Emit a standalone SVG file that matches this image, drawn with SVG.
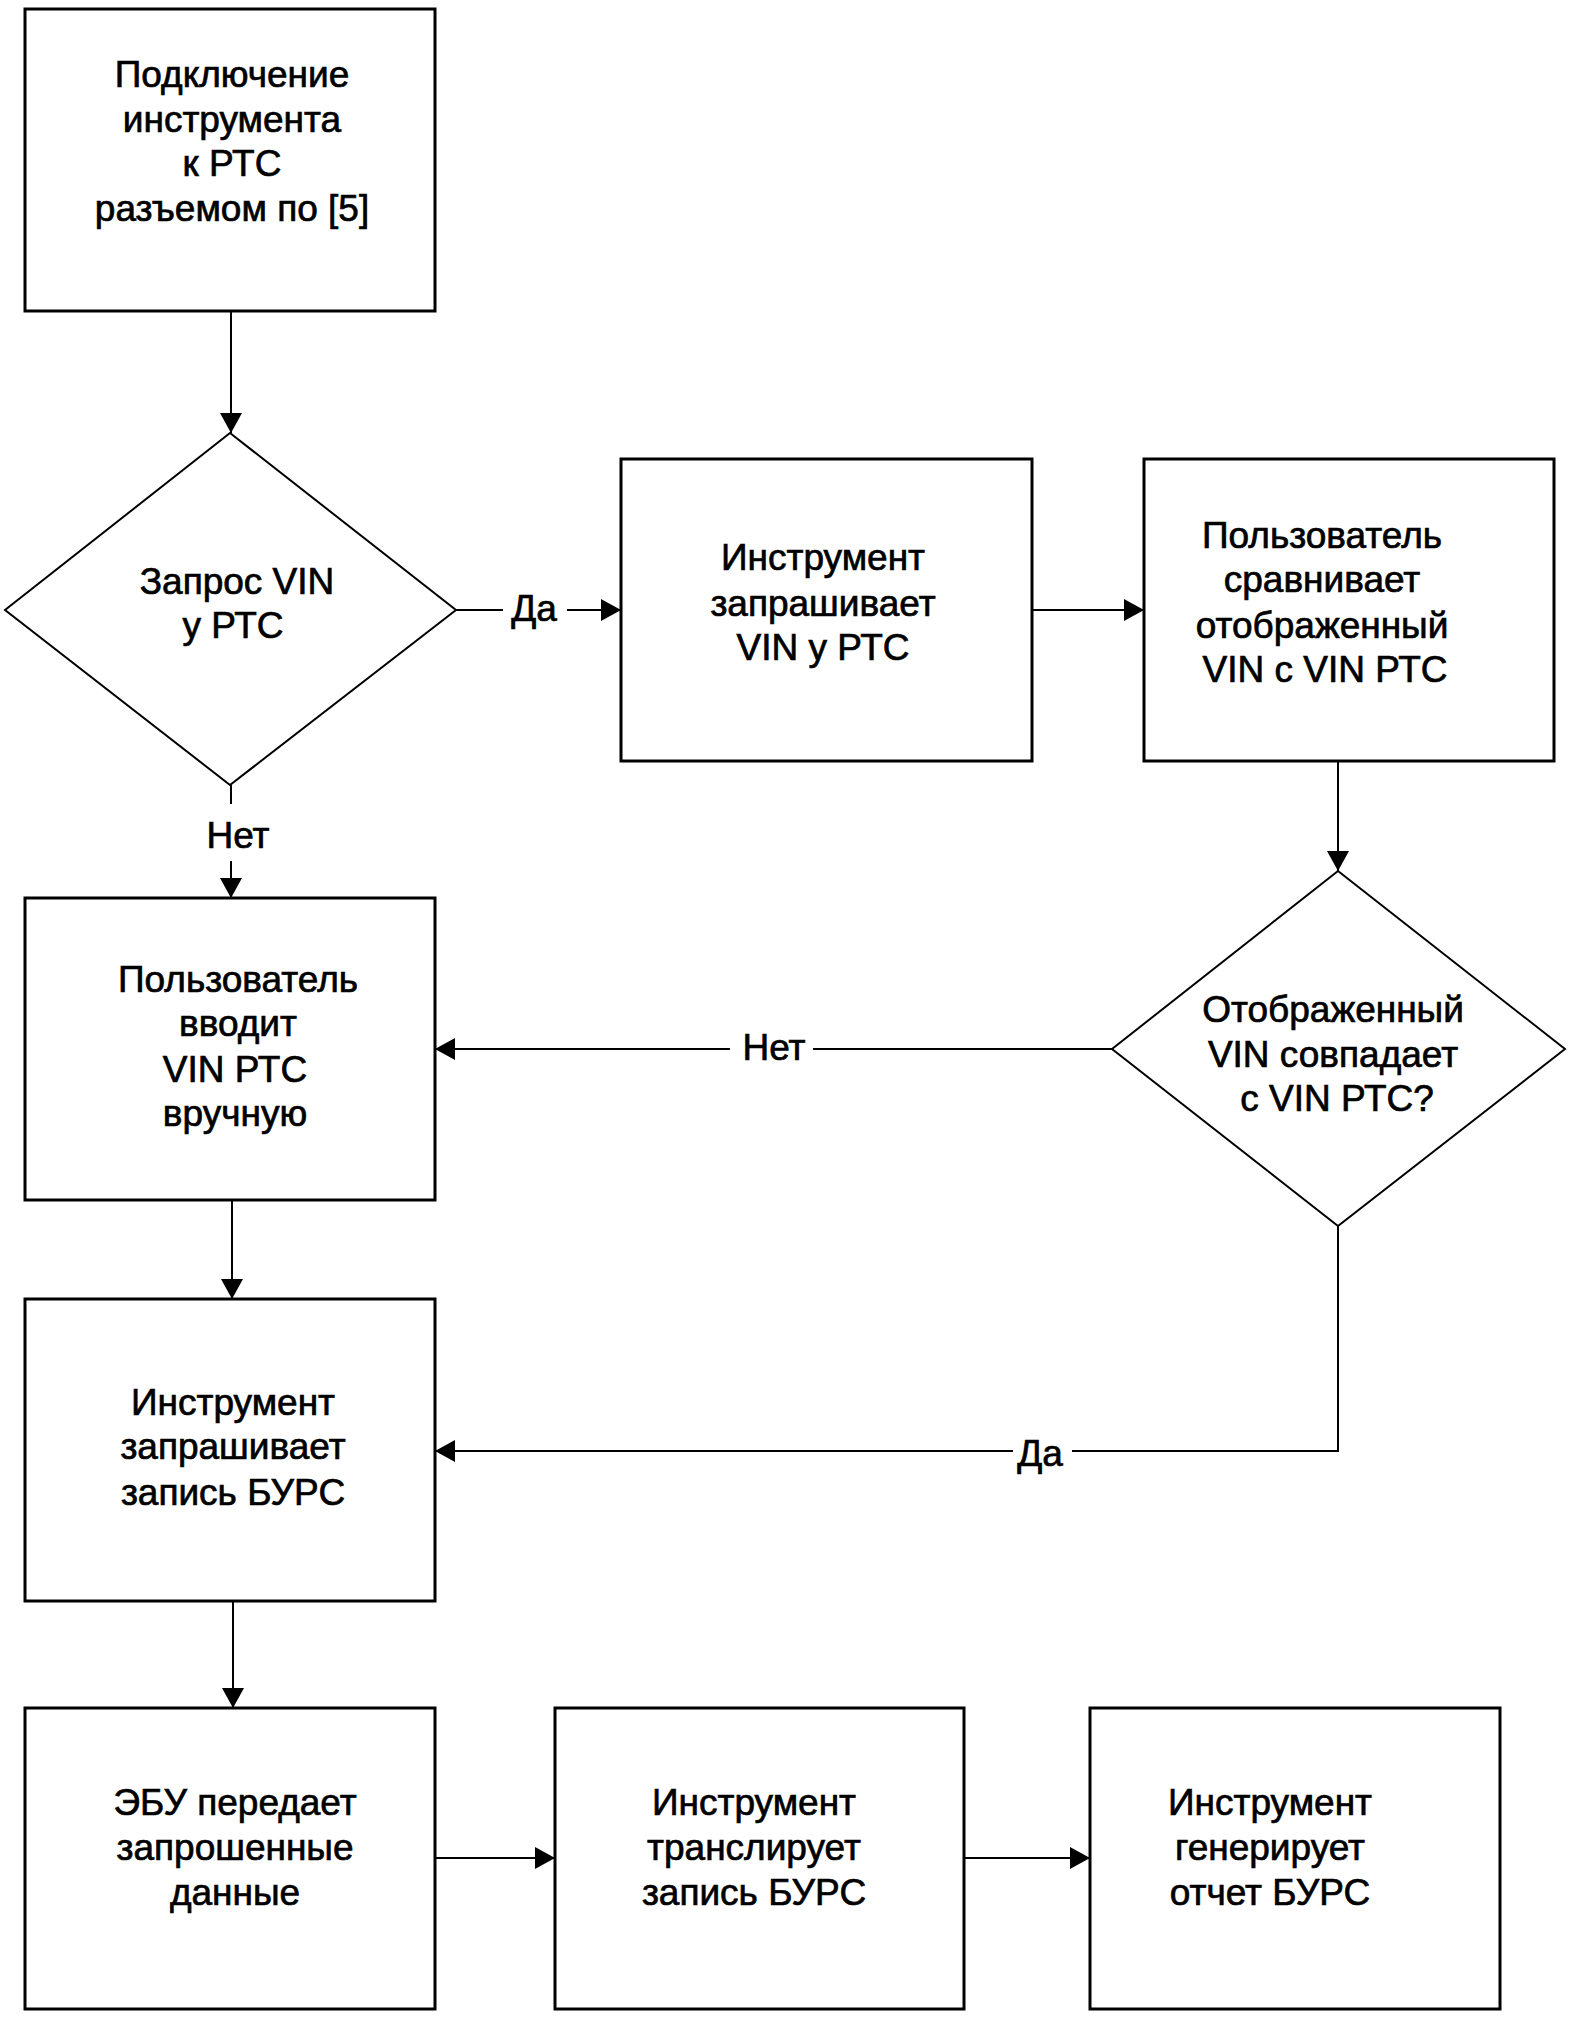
<svg xmlns="http://www.w3.org/2000/svg" width="1570" height="2021" viewBox="0 0 1570 2021">
<style>
.box{fill:#fff;stroke:#000;stroke-width:3}
.dia{fill:#fff;stroke:#000;stroke-width:2}
.con{fill:none;stroke:#000;stroke-width:2}
text{font-family:"Liberation Sans",Arial,sans-serif;font-size:37px;fill:#000;stroke:#000;stroke-width:0.7;text-anchor:middle}
</style>
<defs>
<marker id="ah" markerUnits="userSpaceOnUse" markerWidth="22" markerHeight="22" viewBox="0 0 20 22" refX="20" refY="11" orient="auto">
<path d="M0,0 L20,11 L0,22 z" fill="#000"/>
</marker>
</defs>
<rect width="1570" height="2021" fill="#fff"/>
<g id="connectors">
<path class="con" d="M231,311 V433" marker-end="url(#ah)"/>
<path class="con" d="M456,610 H503"/>
<path class="con" d="M567,610 H621" marker-end="url(#ah)"/>
<path class="con" d="M1032,610 H1144" marker-end="url(#ah)"/>
<path class="con" d="M1338,761 V871" marker-end="url(#ah)"/>
<path class="con" d="M231,785 V804"/>
<path class="con" d="M231,861 V898" marker-end="url(#ah)"/>
<path class="con" d="M1112,1049 H813"/>
<path class="con" d="M730,1049 H435" marker-end="url(#ah)"/>
<path class="con" d="M232,1200 V1299" marker-end="url(#ah)"/>
<path class="con" d="M1338,1226 V1451 H1072"/>
<path class="con" d="M1013,1451 H435" marker-end="url(#ah)"/>
<path class="con" d="M233,1601 V1708" marker-end="url(#ah)"/>
<path class="con" d="M435,1858 H555" marker-end="url(#ah)"/>
<path class="con" d="M964,1858 H1090" marker-end="url(#ah)"/>
<text x="534" y="621">Да</text>
<text x="238" y="848">Нет</text>
<text x="774" y="1060">Нет</text>
<text x="1040" y="1466">Да</text>
</g>
<g id="n1">
<rect class="box" x="25" y="9" width="410" height="302"/>
<text x="232" y="87">Подключение</text>
<text x="232" y="132">инструмента</text>
<text x="232" y="176">к РТС</text>
<text x="232" y="221">разъемом по [5]</text>
</g>
<g id="d1">
<polygon class="dia" points="230,433 456,610 230,785 5,610"/>
<text x="237" y="594">Запрос VIN</text>
<text x="233" y="638">у РТС</text>
</g>
<g id="n2">
<rect class="box" x="621" y="459" width="411" height="302"/>
<text x="823" y="570">Инструмент</text>
<text x="823" y="616">запрашивает</text>
<text x="823" y="660">VIN у РТС</text>
</g>
<g id="n3">
<rect class="box" x="1144" y="459" width="410" height="302"/>
<text x="1322" y="548">Пользователь</text>
<text x="1322" y="592">сравнивает</text>
<text x="1322" y="638">отображенный</text>
<text x="1325" y="682">VIN с VIN РТС</text>
</g>
<g id="d2">
<polygon class="dia" points="1338,871 1565,1049 1338,1226 1112,1049"/>
<text x="1333" y="1022">Отображенный</text>
<text x="1333" y="1067">VIN совпадает</text>
<text x="1337" y="1111">с VIN РТС?</text>
</g>
<g id="n4">
<rect class="box" x="25" y="898" width="410" height="302"/>
<text x="238" y="992">Пользователь</text>
<text x="238" y="1036">вводит</text>
<text x="235" y="1082">VIN РТС</text>
<text x="235" y="1126">вручную</text>
</g>
<g id="n5">
<rect class="box" x="25" y="1299" width="410" height="302"/>
<text x="233" y="1415">Инструмент</text>
<text x="233" y="1459">запрашивает</text>
<text x="233" y="1505">запись БУРС</text>
</g>
<g id="n6">
<rect class="box" x="25" y="1708" width="410" height="301"/>
<text x="235" y="1815">ЭБУ передает</text>
<text x="235" y="1860">запрошенные</text>
<text x="235" y="1905">данные</text>
</g>
<g id="n7">
<rect class="box" x="555" y="1708" width="409" height="301"/>
<text x="754" y="1815">Инструмент</text>
<text x="754" y="1860">транслирует</text>
<text x="754" y="1905">запись БУРС</text>
</g>
<g id="n8">
<rect class="box" x="1090" y="1708" width="410" height="301"/>
<text x="1270" y="1815">Инструмент</text>
<text x="1270" y="1860">генерирует</text>
<text x="1270" y="1905">отчет БУРС</text>
</g>
</svg>
